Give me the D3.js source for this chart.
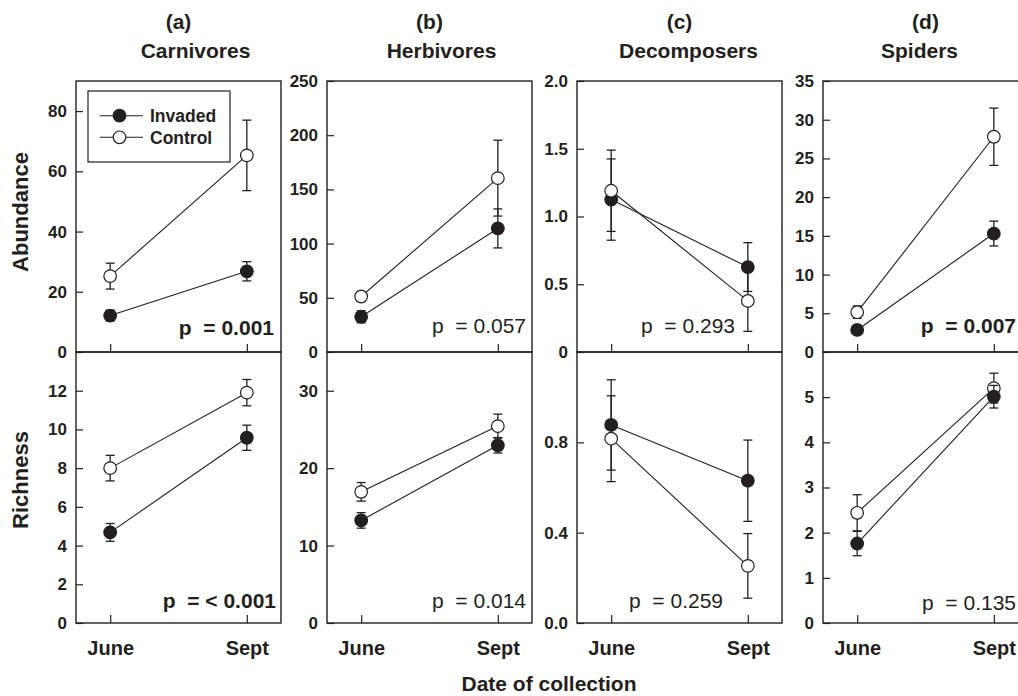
<!DOCTYPE html>
<html>
<head>
<meta charset="UTF-8">
<style>
  body { margin: 0; background: #fff; }
  svg { display: block; font-family: "Liberation Sans", Arial, Helvetica, sans-serif; }
  .ptext { white-space: pre; }
</style>
</head>
<body>
<svg width="1018" height="696"></svg>
<script src="https://d3js.org/d3.v7.min.js"></script>
<script>
// categories
const dates = ["June", "Sept"];
const groups = ["Invaded", "Control"];
const letters = ["(a)", "(b)", "(c)", "(d)"];
const taxa = ["Carnivores", "Herbivores", "Decomposers", "Spiders"];
const measures = ["Abundance", "Richness"];

// means [June, Sept] per taxon, and +/- error
const abundanceInvadedMean = [[12.1, 26.8], [32.5, 114], [1.125, 0.627], [2.85, 15.3]];
const abundanceInvadedErr  = [[1.8, 3.2], [5.5, 18], [0.30, 0.18], [0.5, 1.6]];
const abundanceControlMean = [[25.2, 65.3], [51.2, 160.4], [1.19, 0.377], [5.14, 27.8]];
const abundanceControlErr  = [[4.3, 11.7], [4, 35], [0.30, 0.225], [0.8, 3.7]];
const richnessInvadedMean  = [[4.68, 9.57], [13.25, 22.95], [0.877, 0.63], [1.76, 5.01]];
const richnessInvadedErr   = [[0.46, 0.65], [1.0, 1.0], [0.20, 0.18], [0.27, 0.25]];
const richnessControlMean  = [[8.0, 11.9], [16.94, 25.43], [0.816, 0.253], [2.44, 5.2]];
const richnessControlErr   = [[0.66, 0.68], [1.2, 1.55], [0.19, 0.143], [0.4, 0.33]];

// axes
const abundanceDomains = [[0, 90], [0, 250], [0, 2], [0, 35]];
const richnessDomains  = [[0, 14], [0, 35], [0, 1.2], [0, 6]];
const abundanceTicks = [[0, 20, 40, 60, 80], [0, 50, 100, 150, 200, 250], [0, 0.5, 1, 1.5, 2], [0, 5, 10, 15, 20, 25, 30, 35]];
const abundanceTickLabels = [["0", "20", "40", "60", "80"], ["0", "50", "100", "150", "200", "250"], ["0", "0.5", "1.0", "1.5", "2.0"], ["0", "5", "10", "15", "20", "25", "30", "35"]];
const richnessTicks = [[0, 2, 4, 6, 8, 10, 12], [0, 10, 20, 30], [0, 0.4, 0.8], [0, 1, 2, 3, 4, 5]];
const richnessTickLabels = [["0", "2", "4", "6", "8", "10", "12"], ["0", "10", "20", "30"], ["0.0", "0.4", "0.8"], ["0", "1", "2", "3", "4", "5"]];

// p values
const abundanceP = ["p  = 0.001", "p  = 0.057", "p  = 0.293", "p  = 0.007"];
const abundancePBold = [true, false, false, true];
const richnessP = ["p  = < 0.001", "p  = 0.014", "p  = 0.259", "p  = 0.135"];
const richnessPBold = [true, false, false, false];

// layout
const ink = "#231f20";
const panelLeft = [76, 327, 577, 823];
const panelW = 205;
const rowTop = [81, 352];
const rowH = 271;
const titleDx = [17, 12, 9, -6];
const pRightGap = [[7, 6, 47, 12], [5, 6, 59, 12]];
const pBaseline = [[335, 333, 333, 333], [608, 608, 608, 610]];

const svg = d3.select("svg");

const rows = [
  { domains: abundanceDomains, ticks: abundanceTicks, labels: abundanceTickLabels,
    inv: abundanceInvadedMean, invErr: abundanceInvadedErr, ctl: abundanceControlMean, ctlErr: abundanceControlErr,
    p: abundanceP, pBold: abundancePBold },
  { domains: richnessDomains, ticks: richnessTicks, labels: richnessTickLabels,
    inv: richnessInvadedMean, invErr: richnessInvadedErr, ctl: richnessControlMean, ctlErr: richnessControlErr,
    p: richnessP, pBold: richnessPBold }
];

rows.forEach((row, r) => {
  taxa.forEach((taxon, i) => {
    let x0 = panelLeft[i], y0 = rowTop[r];
    let g = svg.append("g").attr("transform", `translate(${x0},${y0})`);

    let x = d3.scalePoint().domain(dates).range([0, panelW]).padding(0.25);
    let y = d3.scaleLinear().domain(row.domains[i]).range([rowH, 0]);

    // y axis, ticks inward
    let ya = g.append("g")
      .call(d3.axisLeft(y).tickValues(row.ticks[i]).tickSize(-7).tickPadding(9)
        .tickFormat((d, k) => row.labels[i][k]));
    ya.select(".domain").remove();
    ya.selectAll("line").attr("stroke", ink).attr("stroke-width", 1.2);
    ya.selectAll("text").attr("fill", ink).attr("font-size", 17).attr("font-weight", "bold");
    ya.attr("font-family", null);

    // x axis, ticks inward
    let xa = g.append("g").attr("transform", `translate(0,${rowH})`)
      .call(d3.axisBottom(x).tickSize(-8).tickPadding(18).tickFormat(r === 1 ? d => d : () => ""));
    xa.select(".domain").remove();
    xa.selectAll("line").attr("stroke", ink).attr("stroke-width", 1.2);
    xa.selectAll("text").attr("fill", ink).attr("font-size", 20).attr("font-weight", "bold");
    xa.attr("font-family", null);

    // frame
    g.append("rect").attr("x", 0).attr("y", 0).attr("width", panelW).attr("height", rowH)
      .attr("fill", "none").attr("stroke", ink).attr("stroke-width", 1.4);

    let series = [
      { name: "Control", mean: row.ctl[i], err: row.ctlErr[i], fill: "#fff" },
      { name: "Invaded", mean: row.inv[i], err: row.invErr[i], fill: ink }
    ];
    // in (c) the open symbols sit on top
    if (i === 2) series.reverse();

    series.forEach(s => {
      let pts = dates.map((d, k) => ({ d: d, m: s.mean[k], e: s.err[k] }));
      g.append("path").datum(pts)
        .attr("fill", "none").attr("stroke", ink).attr("stroke-width", 1.1)
        .attr("d", d3.line().x(p => x(p.d)).y(p => y(p.m)));
      let eb = g.append("g").selectAll("g").data(pts).enter().append("g")
        .attr("stroke", ink).attr("stroke-width", 1.3);
      eb.append("line").attr("x1", p => x(p.d)).attr("x2", p => x(p.d))
        .attr("y1", p => y(p.m - p.e)).attr("y2", p => y(p.m + p.e));
      eb.append("line").attr("x1", p => x(p.d) - 4.5).attr("x2", p => x(p.d) + 4.5)
        .attr("y1", p => y(p.m + p.e)).attr("y2", p => y(p.m + p.e));
      eb.append("line").attr("x1", p => x(p.d) - 4.5).attr("x2", p => x(p.d) + 4.5)
        .attr("y1", p => y(p.m - p.e)).attr("y2", p => y(p.m - p.e));
      g.append("g").selectAll("circle").data(pts).enter().append("circle")
        .attr("cx", p => x(p.d)).attr("cy", p => y(p.m)).attr("r", 6.3)
        .attr("fill", s.fill).attr("stroke", ink).attr("stroke-width", 1.2);
    });

    // p value
    svg.append("text").attr("class", "ptext")
      .attr("x", x0 + panelW - pRightGap[r][i]).attr("y", pBaseline[r][i])
      .attr("text-anchor", "end").attr("font-size", 21)
      .attr("font-weight", row.pBold[i] ? "bold" : "normal")
      .attr("fill", ink).text(row.p[i]);

    if (r === 0) {
      let cx = x0 + panelW / 2;
      svg.append("text").attr("x", cx).attr("y", 29).attr("text-anchor", "middle")
        .attr("font-size", 21).attr("font-weight", "bold").attr("fill", ink).text(letters[i]);
      svg.append("text").attr("x", cx + titleDx[i]).attr("y", 57.5).attr("text-anchor", "middle")
        .attr("font-size", 21).attr("font-weight", "bold").attr("fill", ink).text(taxon);
    }
  });

  // row label
  let cy = r === 0 ? 212 : 480;
  svg.append("text").attr("transform", `translate(28,${cy}) rotate(-90)`)
    .attr("text-anchor", "middle").attr("font-size", 22).attr("font-weight", "bold")
    .attr("fill", ink).text(measures[r]);
});

// legend
let lg = svg.append("g");
lg.append("rect").attr("x", 88).attr("y", 91).attr("width", 142).attr("height", 71)
  .attr("fill", "#fff").attr("stroke", ink).attr("stroke-width", 1.2);
groups.forEach((name, k) => {
  let ly = 115.7 + k * 21.6;
  lg.append("line").attr("x1", 100).attr("x2", 143).attr("y1", ly).attr("y2", ly)
    .attr("stroke", ink).attr("stroke-width", 1.1);
  lg.append("circle").attr("cx", 119.5).attr("cy", ly).attr("r", 6.3)
    .attr("fill", name === "Invaded" ? ink : "#fff").attr("stroke", ink).attr("stroke-width", 1.2);
  lg.append("text").attr("x", 150).attr("y", ly).attr("dy", "0.36em")
    .attr("font-size", 17.5).attr("font-weight", "bold").attr("fill", ink).text(name);
});

svg.append("text").attr("x", 549).attr("y", 691).attr("text-anchor", "middle")
  .attr("font-size", 21).attr("font-weight", "bold").attr("fill", ink).text("Date of collection");
</script>
</body>
</html>
